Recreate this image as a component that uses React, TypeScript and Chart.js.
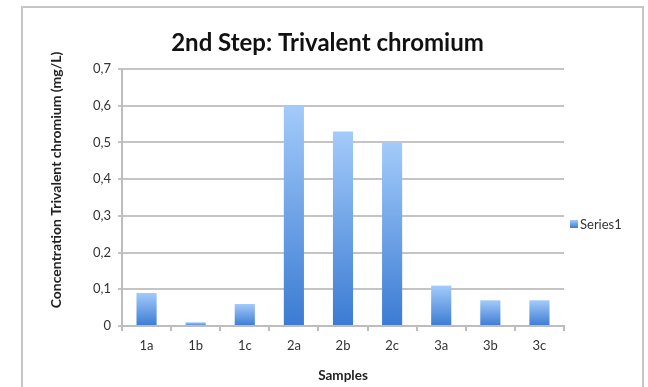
import React, { useEffect, useRef } from "react";
import { Chart, registerables } from "chart.js";

Chart.register(...registerables);

const categories = ["1a", "1b", "1c", "2a", "2b", "2c", "3a", "3b", "3c"];
const seriesValues = [0.09, 0.01, 0.06, 0.6, 0.53, 0.5, 0.11, 0.07, 0.07];
const seriesName = "Series1";
const chartTitle = "2nd Step: Trivalent chromium";
const yTitle = "Concentration Trivalent chromium (mg/L)";
const xTitle = "Samples";

const FONT = "Lato, 'Open Sans', sans-serif";
const LIGHT = "#a3cbfa";
const DARK = "#3b7bd3";

export default function App() {
  const ref = useRef<HTMLCanvasElement | null>(null);

  useEffect(() => {
    const canvas = ref.current;
    if (!canvas) return;

    const decor = {
      id: "decor",
      beforeDraw(chart: any) {
        const c = chart.ctx;
        c.save();
        c.fillStyle = "#ffffff";
        c.fillRect(0, 0, chart.width, chart.height);
        c.strokeStyle = "#c6c6c6";
        c.lineWidth = 2;
        c.strokeRect(22, 7, 621, 400);
        c.restore();
      },
      afterDraw(chart: any) {
        const c = chart.ctx;
        const area = chart.chartArea;
        c.save();
        // y axis title
        c.translate(56, 180);
        c.rotate(-Math.PI / 2);
        c.font = `bold 14px ${FONT}`;
        c.fillStyle = "#222";
        c.textAlign = "center";
        c.textBaseline = "middle";
        c.fillText(yTitle, 0, 0);
        c.restore();
        // legend
        c.save();
        const bx = area.right + 6;
        const by = 220;
        const g = c.createLinearGradient(0, by, 0, by + 8);
        g.addColorStop(0, LIGHT);
        g.addColorStop(1, DARK);
        c.fillStyle = g;
        c.fillRect(bx, by, 8, 8);
        c.font = `13px ${FONT}`;
        c.fillStyle = "#333";
        c.textAlign = "left";
        c.textBaseline = "middle";
        c.fillText(seriesName, bx + 10, by + 5);
        c.restore();
      },
    };

    const chart = new Chart(canvas, {
      type: "bar",
      data: {
        labels: categories,
        datasets: [
          {
            label: seriesName,
            data: seriesValues,
            categoryPercentage: 1,
            barPercentage: 0.41,
            backgroundColor: (ctx: any) => {
              const ch = ctx.chart;
              const ys = ch.scales && ch.scales.y;
              if (!ch.chartArea || !ys || ctx.parsed == null) return DARK;
              const top = ys.getPixelForValue(ctx.parsed.y);
              const bottom = ys.getPixelForValue(0);
              if (!isFinite(top) || !isFinite(bottom) || bottom - top < 1) return DARK;
              const g = ch.ctx.createLinearGradient(0, top, 0, bottom);
              g.addColorStop(0, LIGHT);
              g.addColorStop(1, DARK);
              return g;
            },
            borderWidth: 0,
          },
        ],
      },
      options: {
        responsive: false,
        animation: false,
        layout: { padding: { left: 91, right: 84, top: 0, bottom: 0 } },
        plugins: {
          legend: { display: false },
          tooltip: { enabled: false },
          title: {
            display: true,
            text: chartTitle,
            font: { family: FONT, size: 24, weight: "bold" },
            color: "#111",
            padding: { top: 29, bottom: 11.2 },
          },
        },
        scales: {
          x: {
            offset: true,
            afterFit: (s: any) => {
              s.height = 61;
            },
            grid: {
              drawOnChartArea: false,
              drawTicks: true,
              tickLength: 5,
              offset: true,
              color: "#bdbdbd",
              lineWidth: 2,
            },
            border: { color: "#bdbdbd", width: 2 },
            ticks: {
              padding: 7,
              color: "#333",
              font: { family: FONT, size: 13 },
            },
            title: {
              display: true,
              text: xTitle,
              color: "#222",
              font: { family: FONT, size: 13.5, weight: "bold" },
              padding: { top: 4, bottom: 3 },
            },
          },
          y: {
            min: 0,
            max: 0.7,
            afterFit: (s: any) => {
              s.width = 31;
            },
            ticks: {
              stepSize: 0.1,
              padding: 7,
              color: "#333",
              font: { family: FONT, size: 13 },
              callback: (v: any) => {
                const n = Math.round(Number(v) * 10) / 10;
                return n === 0 ? "0" : n.toFixed(1).replace(".", ",");
              },
            },
            grid: {
              color: "#c4c4c4",
              lineWidth: 2,
              tickLength: 4,
            },
            border: { color: "#bdbdbd", width: 2 },
          },
        },
      },
      plugins: [decor],
    } as any);

    return () => chart.destroy();
  }, []);

  return (
    <div style={{ position: "fixed", left: 0, top: 0, width: 648, height: 387, background: "#fff" }}>
      <canvas ref={ref} width={648} height={387} style={{ display: "block", width: 648, height: 387 }} />
    </div>
  );
}
